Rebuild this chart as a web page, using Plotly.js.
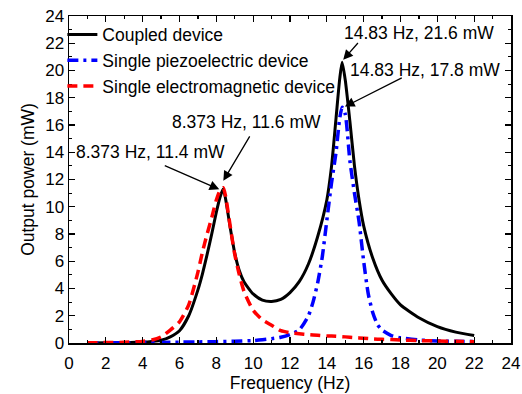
<!DOCTYPE html>
<html>
<head>
<meta charset="utf-8">
<script src="https://cdn.plot.ly/plotly-3.0.1.min.js"></script>
<style>html,body{margin:0;padding:0;background:#fff;}#chart{width:522px;height:394px;}</style>
</head>
<body>
<div id="chart"></div>
<script>
// Coupled device
const coupledFreq = [1,2,3,4,4.5,5,5.5,6,6.5,7,7.25,7.5,7.75,8,8.2,8.373,8.5,8.75,9,9.25,9.5,10,10.5,11,11.5,12,12.5,13,13.5,14,14.25,14.5,14.7,14.83,15,15.25,15.5,15.75,16,16.5,17,17.5,18,19,20,21,22];
const coupledPower = [0,0.01,0.03,0.07,0.12,0.2,0.45,0.9,2.0,3.9,5.1,6.5,8.0,9.6,10.7,11.3,10.6,8.5,6.6,5.3,4.5,3.6,3.15,3.05,3.2,3.7,4.5,5.8,7.8,10.5,12.9,16.5,19.4,20.6,19.3,16.3,13.0,10.5,8.6,6.2,4.6,3.6,2.8,1.85,1.2,0.8,0.55];
// Single piezoelectric device
const piezoFreq = [1,2,3,4,5,6,7,8,9,10,10.5,11,11.5,12,12.5,13,13.25,13.5,13.75,14,14.25,14.5,14.7,14.83,15,15.25,15.5,15.75,16,16.25,16.5,16.75,17,17.5,18,19,20,21,22];
const piezoPower = [0,0.01,0.02,0.03,0.04,0.06,0.08,0.1,0.13,0.18,0.24,0.32,0.42,0.62,0.95,2.0,3.0,4.4,6.3,9.0,11.7,14.0,16.5,17.3,16.8,13.4,11.0,8.9,6.0,3.6,2.2,1.35,0.95,0.55,0.38,0.22,0.15,0.12,0.1];
// Single electromagnetic device
const emFreq = [1,2,3,4,4.5,5,5.5,6,6.5,7,7.25,7.5,7.75,8,8.2,8.373,8.5,8.75,9,9.25,9.5,10,10.5,11,11.5,12,12.5,13,13.5,14,14.5,15,15.5,16,16.5,17,17.5,18,19,20,21,22];
const emPower = [0.02,0.03,0.05,0.12,0.22,0.45,0.95,1.55,2.8,5.2,6.7,8.0,9.2,10.5,11.2,11.4,10.8,8.6,6.5,5.0,3.8,2.4,1.7,1.3,0.9,0.75,0.68,0.62,0.57,0.52,0.5,0.45,0.4,0.35,0.3,0.27,0.25,0.22,0.18,0.15,0.12,0.1];
const seriesNames = ['Coupled device','Single piezoelectric device','Single electromagnetic device'];
const tickVals = [0,2,4,6,8,10,12,14,16,18,20,22,24];
// annotation labels and their points
const labelTexts = ['8.373 Hz, 11.6 mW','8.373 Hz, 11.4 mW','14.83 Hz, 21.6 mW','14.83 Hz, 17.8 mW'];
const labelX = [9.65,4.44,19.0,19.33];
const labelY = [16.25,14.04,22.75,20.05];
const arrowTailX = [9.86,5.12,15.76,18.15];
const arrowTailY = [15.27,13.07,22.13,19.51];
const arrowHeadX = [8.38,8.16,14.89,14.98];
const arrowHeadY = [11.9,11.28,20.79,17.35];

const FONT = 'Arial, "Liberation Sans", sans-serif';
const traces = [
  {x: coupledFreq, y: coupledPower, name: seriesNames[0], type:'scatter', mode:'lines',
   line:{color:'#000000', width:3, shape:'spline', smoothing:0.6}},
  {x: piezoFreq, y: piezoPower, name: seriesNames[1], type:'scatter', mode:'lines',
   line:{color:'#0000ff', width:3.5, dash:'11px,5px,3px,5px', shape:'spline', smoothing:0.6}},
  {x: emFreq, y: emPower, name: seriesNames[2], type:'scatter', mode:'lines',
   line:{color:'#ff0000', width:3.5, dash:'10px,6px', shape:'spline', smoothing:0.6}}
];
const annotations = [];
for (let i = 0; i < labelTexts.length; i++) {
  annotations.push({x: labelX[i], y: labelY[i], xref:'x', yref:'y', text: labelTexts[i],
    showarrow:false, font:{family:FONT, size:17.5, color:'#000'}});
  annotations.push({x: arrowHeadX[i], y: arrowHeadY[i], xref:'x', yref:'y',
    ax: arrowTailX[i], ay: arrowTailY[i], axref:'x', ayref:'y', text:'',
    showarrow:true, arrowhead:2, arrowsize:1.5, arrowwidth:1.3, arrowcolor:'#000', standoff:0, startstandoff:0});
}
const axisCommon = {
  range:[0,24], tickvals: tickVals, ticks:'inside', ticklen:6, tickwidth:1.2, tickcolor:'#000',
  showline:true, linecolor:'#000', linewidth:1.5, mirror:'allticks', showgrid:false, zeroline:false,
  tickfont:{family:FONT, size:17, color:'#000'},
  minor:{dtick:1, ticks:'inside', ticklen:3, tickwidth:1.2, tickcolor:'#000', showgrid:false}
};
const layout = {
  width:522, height:394,
  margin:{l:69, r:11, t:16, b:51},
  paper_bgcolor:'#fff', plot_bgcolor:'#fff',
  font:{family:FONT, size:17, color:'#000'},
  showlegend:true,
  legend:{x:-0.015, y:0.998, xanchor:'left', yanchor:'top', bgcolor:'rgba(0,0,0,0)',
    font:{family:FONT, size:17.5, color:'#000'}, tracegroupgap:0},
  xaxis:Object.assign({}, axisCommon, {ticklabelstandoff:4, title:{text:'Frequency (Hz)', font:{family:FONT, size:17.5}, standoff:2}}),
  yaxis:Object.assign({}, axisCommon, {title:{text:'Output power (mW)', font:{family:FONT, size:17.5}, standoff:6}}),
  annotations: annotations
};
Plotly.newPlot('chart', traces, layout, {staticPlot:true, displayModeBar:false});
</script>
</body>
</html>
